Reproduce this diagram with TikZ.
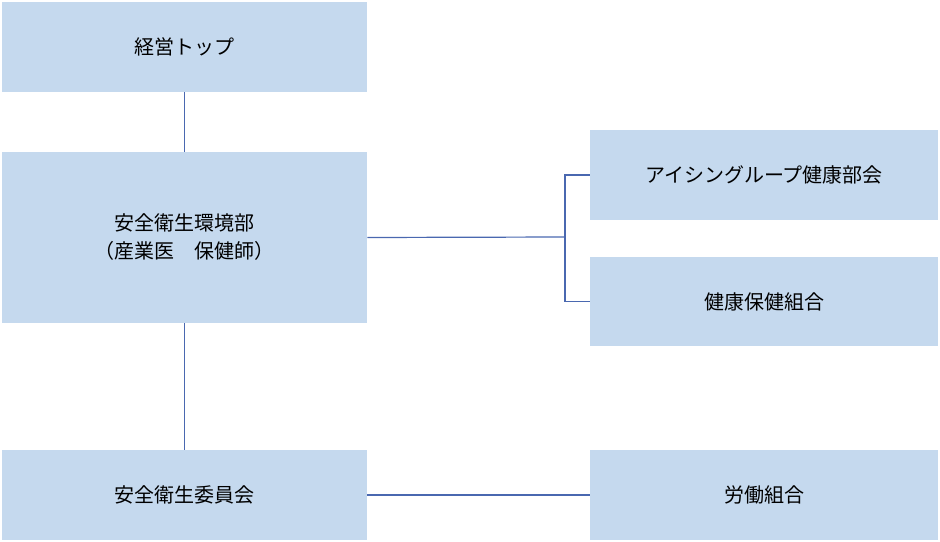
\documentclass[tikz,border=0pt]{standalone}
\usepackage{fontspec}
\setmainfont{Noto Sans CJK JP}
\definecolor{boxfill}{HTML}{C5D9EE}
\definecolor{linkblue}{HTML}{4A68B0}
\begin{document}
\begin{tikzpicture}[x=0.75pt,y=-0.75pt,
    orgbox/.style={fill=boxfill,draw=none,align=center,inner sep=0pt,font=\fontsize{15}{21}\selectfont},
    link/.style={draw=linkblue,line width=0.9pt}]
    \useasboundingbox (0,0) rectangle (940,542);

    \node[orgbox,minimum width=365*0.75pt,minimum height=90*0.75pt] (top) at (184.5,47) {経営トップ};
    \node[orgbox,minimum width=365*0.75pt,minimum height=171*0.75pt] (env) at (184.5,237.5) {安全衛生環境部\\（産業医\quad 保健師）};
    \node[orgbox,minimum width=365*0.75pt,minimum height=90*0.75pt] (comm) at (184.5,495) {安全衛生委員会};
    \node[orgbox,minimum width=348*0.75pt,minimum height=90*0.75pt] (icing) at (764,175) {アイシングループ健康部会};
    \node[orgbox,minimum width=348*0.75pt,minimum height=89*0.75pt] (kenpo) at (764,301.5) {健康保健組合};
    \node[orgbox,minimum width=348*0.75pt,minimum height=90*0.75pt] (union) at (764,495) {労働組合};

    \coordinate (branch) at (565,237);

    \draw[link] (top.south) -- (env.north);
    \draw[link] (env.south) -- (comm.north);
    \draw[link] (env.east) -- (branch);
    \draw[link] (icing.west) -| (branch) |- (kenpo.west);
    \draw[link] (comm.east) -- (union.west);
\end{tikzpicture}
\end{document}
